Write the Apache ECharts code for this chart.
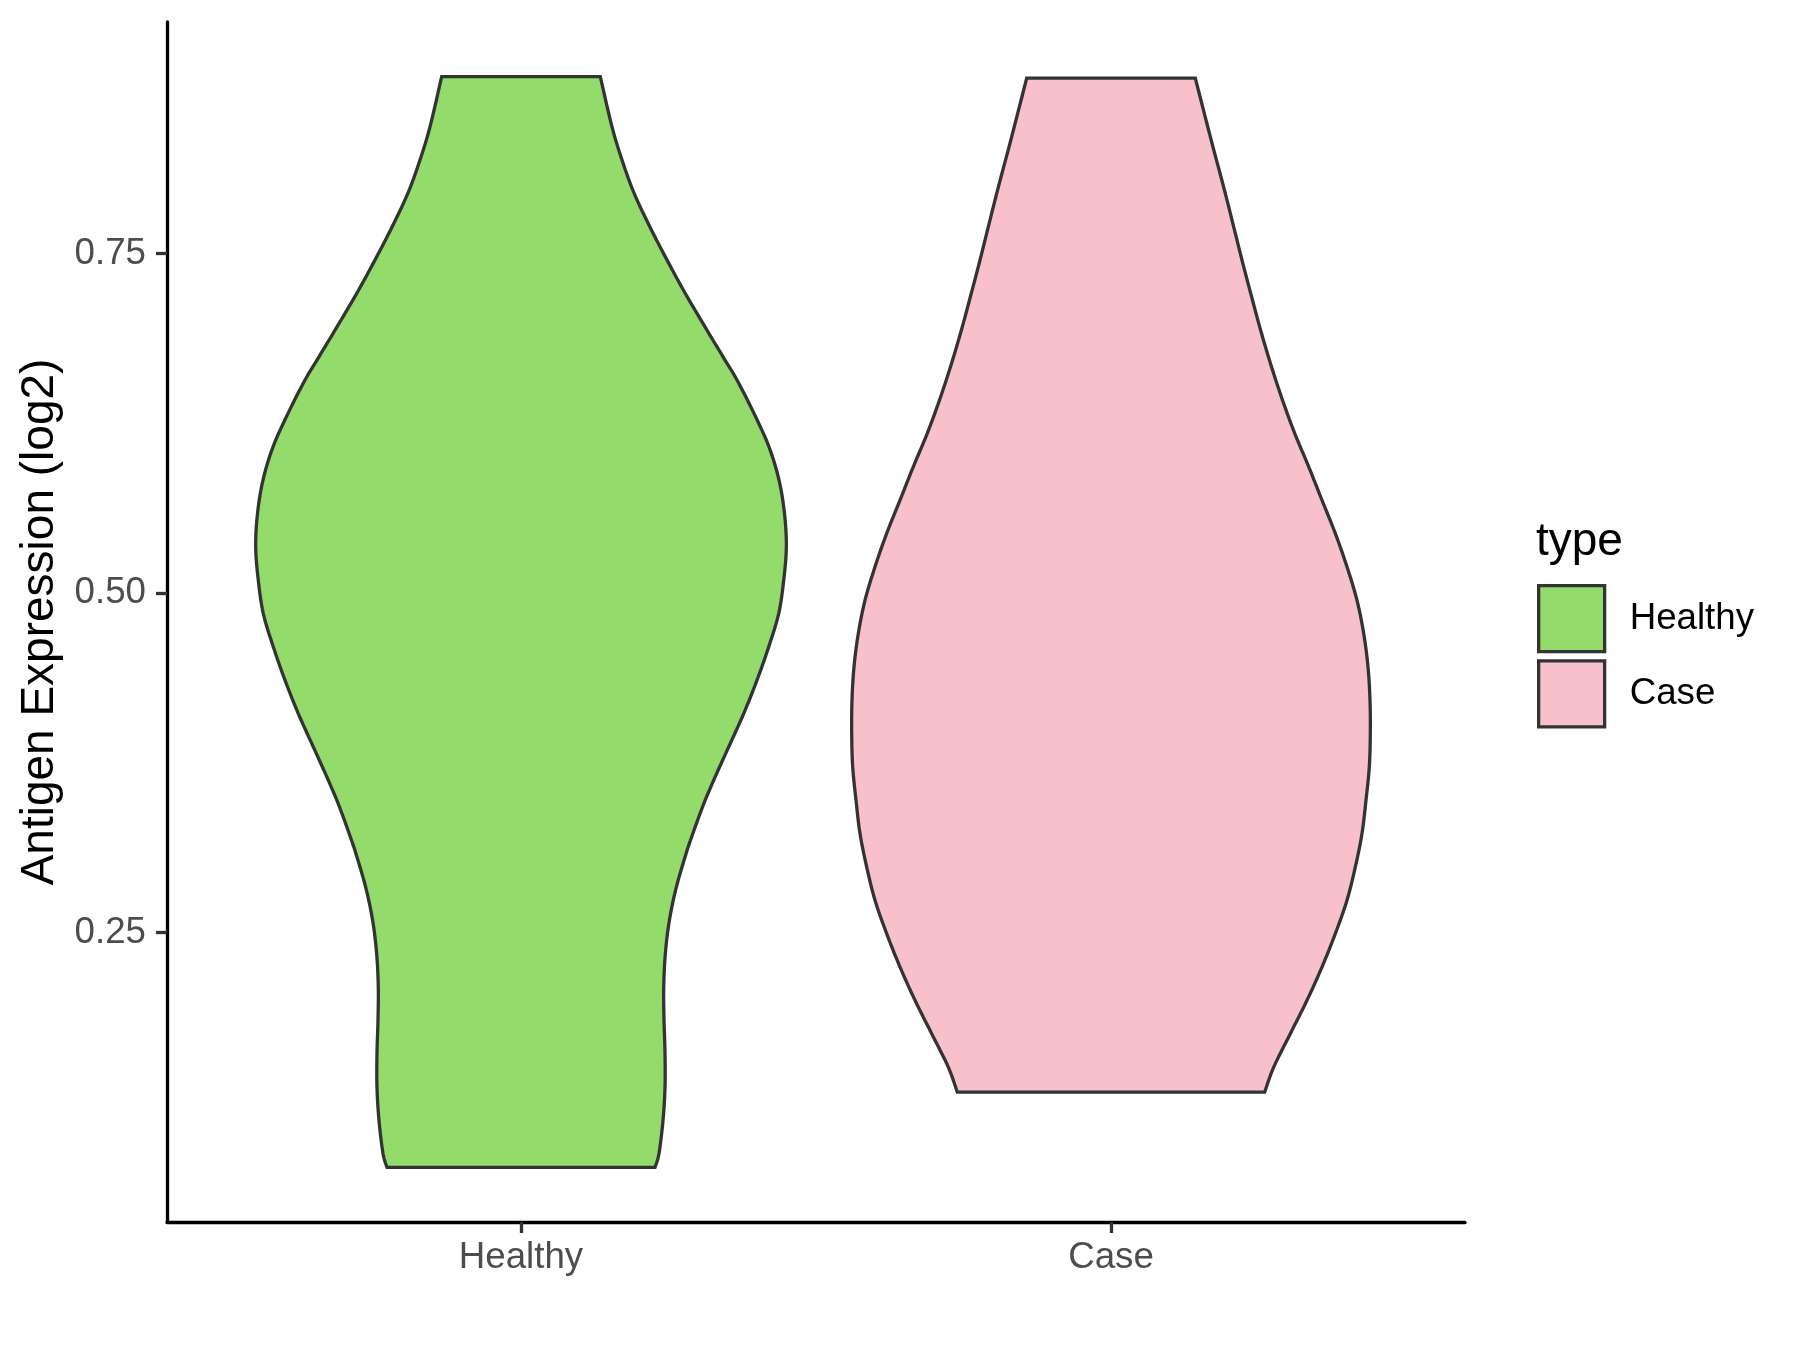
<!DOCTYPE html>
<html>
<head>
<meta charset="utf-8">
<script src="https://cdn.jsdelivr.net/npm/echarts@6/dist/echarts.min.js"></script>
<style>html,body{margin:0;padding:0;background:#fff}#chart{width:1800px;height:1350px}</style>
</head>
<body>
<div id="chart"></div>
<script>
// ---- data ----
const categories = ['Healthy', 'Case'];
const yTicks = [0.25, 0.50, 0.75];
// violin profiles: expression value and half-width (density, in category units)
const healthyValues = [0.8805, 0.8436, 0.8191, 0.7948, 0.7697, 0.7454, 0.7211, 0.6961, 0.6717, 0.657, 0.6324, 0.6078, 0.5833, 0.5587, 0.5341, 0.5096, 0.485, 0.4604, 0.4359, 0.4113, 0.3867, 0.3622, 0.3423, 0.318, 0.3084, 0.2833, 0.259, 0.2347, 0.2097, 0.1853, 0.161, 0.136, 0.1116, 0.0873, 0.077];
const healthyWidths = [0.1344, 0.1542, 0.1712, 0.1915, 0.2186, 0.2475, 0.278, 0.3119, 0.3458, 0.3661, 0.3949, 0.4203, 0.4373, 0.4466, 0.4497, 0.4453, 0.4368, 0.4198, 0.4, 0.3775, 0.352, 0.3266, 0.3075, 0.2873, 0.2800, 0.2632, 0.2515, 0.2447, 0.2419, 0.2424, 0.2441, 0.2441, 0.2407, 0.2339, 0.2271];
const caseValues = [0.8793, 0.8314, 0.7945, 0.7454, 0.7159, 0.6914, 0.6668, 0.6422, 0.6177, 0.5931, 0.5685, 0.544, 0.5194, 0.4948, 0.4703, 0.4457, 0.4211, 0.3966, 0.372, 0.3475, 0.3229, 0.2983, 0.2738, 0.2492, 0.2246, 0.2001, 0.1755, 0.1509, 0.1325];
const caseWidths = [0.1429, 0.1712, 0.1937, 0.222, 0.2398, 0.2551, 0.2720, 0.2907, 0.3114, 0.3351, 0.3576, 0.3802, 0.4, 0.4169, 0.4283, 0.4356, 0.439, 0.4395, 0.4378, 0.4322, 0.4254, 0.4141, 0.4, 0.3802, 0.3576, 0.3322, 0.3039, 0.2758, 0.2605];
const colors = ['#93DB6A', '#F7C0CB'];

const profiles = [
  { values: healthyValues, widths: healthyWidths },
  { values: caseValues, widths: caseWidths }
];

const FONT = '"Liberation Sans", Arial, Helvetica, sans-serif';

// Catmull-Rom smoothing of a pixel-space polyline (rendering only)
function smoothLine(pts, steps) {
  const out = [];
  const n = pts.length;
  for (let i = 0; i < n - 1; i++) {
    const p0 = pts[Math.max(0, i - 1)], p1 = pts[i], p2 = pts[i + 1], p3 = pts[Math.min(n - 1, i + 2)];
    for (let s = 0; s < steps; s++) {
      const t = s / steps, t2 = t * t, t3 = t2 * t;
      const f = (a, b, c, d) => 0.5 * ((2 * b) + (-a + c) * t + (2 * a - 5 * b + 4 * c - d) * t2 + (-a + 3 * b - 3 * c + d) * t3);
      out.push([f(p0[0], p1[0], p2[0], p3[0]), f(p0[1], p1[1], p2[1], p3[1])]);
    }
  }
  out.push(pts[n - 1]);
  return out;
}

function violinRender(params, api) {
  const idx = api.value(0);
  const center = idx + 1;
  const p = profiles[idx];
  const left = [], right = [];
  for (let i = 0; i < p.values.length; i++) {
    left.push(api.coord([center - p.widths[i], p.values[i]]));
    right.push(api.coord([center + p.widths[i], p.values[i]]));
  }
  const pts = smoothLine(left, 8).concat(smoothLine(right, 8).reverse());
  return {
    type: 'polygon',
    shape: { points: pts },
    style: { fill: api.visual('color'), stroke: '#333333', lineWidth: 3.3, lineJoin: 'miter' }
  };
}

const chart = echarts.init(document.getElementById('chart'), null, { renderer: 'canvas' });
chart.setOption({
  animation: false,
  backgroundColor: '#ffffff',
  title: {
    text: 'type', left: 1536, top: 519, padding: 0,
    textStyle: { fontFamily: FONT, fontSize: 46, fontWeight: 'normal', color: '#000000' }
  },
  legend: {
    orient: 'vertical', left: 1537, top: 584, padding: 0,
    itemWidth: 66, itemHeight: 66, itemGap: 6,
    textStyle: { fontFamily: FONT, fontSize: 36.7, color: '#000000', padding: [0, 0, 0, 20] },
    data: categories.map((c, i) => ({
      name: c, icon: 'rect',
      itemStyle: { color: colors[i], borderColor: '#333333', borderWidth: 3.3 }
    }))
  },
  grid: { left: 167, right: 335, top: 22, bottom: 128, containLabel: false },
  xAxis: {
    type: 'value', min: 0.4, max: 2.6,
    splitLine: { show: false },
    axisLine: { show: true, lineStyle: { color: '#000000', width: 3.3 } },
    axisTick: { show: true, customValues: [1, 2], length: 11, lineStyle: { color: '#333333', width: 3.3 } },
    axisLabel: {
      customValues: [1, 2], margin: 17,
      formatter: v => categories[Math.round(v) - 1] || '',
      fontFamily: FONT, fontSize: 36.7, color: '#4D4D4D'
    }
  },
  yAxis: {
    type: 'value', min: 0.0368, max: 0.9207,
    name: 'Antigen Expression (log2)', nameLocation: 'middle', nameGap: 104,
    nameTextStyle: { fontFamily: FONT, fontSize: 46, color: '#000000' },
    splitLine: { show: false },
    axisLine: { show: true, lineStyle: { color: '#000000', width: 3.3 } },
    axisTick: { show: true, customValues: yTicks, length: 11, lineStyle: { color: '#333333', width: 3.3 } },
    axisLabel: {
      customValues: yTicks, margin: 21,
      formatter: v => v.toFixed(2),
      fontFamily: FONT, fontSize: 36.7, color: '#4D4D4D'
    }
  },
  series: categories.map((c, i) => ({
    name: c, type: 'custom',
    itemStyle: { color: colors[i] },
    renderItem: violinRender,
    encode: { x: 0 },
    data: [[i]]
  }))
});
</script>
</body>
</html>
